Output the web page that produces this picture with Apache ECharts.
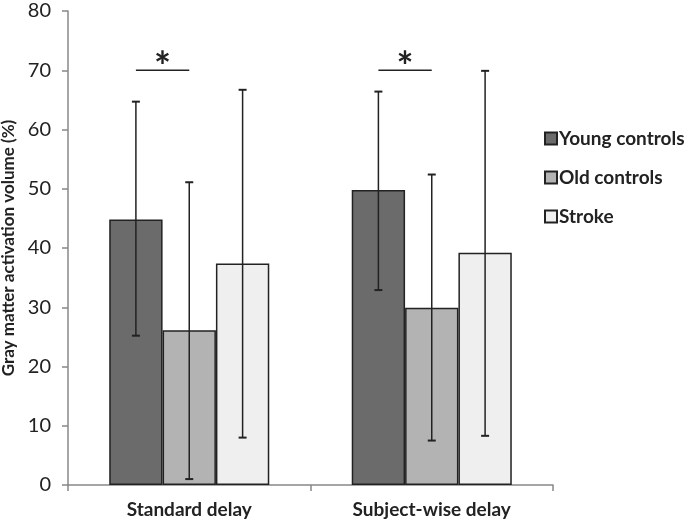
<!DOCTYPE html>
<html>
<head>
<meta charset="utf-8">
<script src="https://cdn.jsdelivr.net/npm/echarts@6/dist/echarts.min.js"></script>
<style>html,body{margin:0;padding:0;background:#fff}#c{width:689px;height:524px}</style>
</head>
<body>
<div id="c"></div>
<script>
const categories = ['Standard delay', 'Subject-wise delay'];
const seriesNames = ['Young controls', 'Old controls', 'Stroke'];
const young = [44.8, 49.8];
const old = [26.1, 29.9];
const stroke = [37.4, 39.2];
const youngErrLow = [25.2, 32.9];
const youngErrHigh = [64.7, 66.4];
const oldErrLow = [1.0, 7.5];
const oldErrHigh = [51.1, 52.4];
const strokeErrLow = [8.0, 8.3];
const strokeErrHigh = [66.7, 69.9];
const sigLevel = [70, 70];
const yTicks = [0, 10, 20, 30, 40, 50, 60, 70, 80];

const FONT = 'Lato';
const colors = ['#6b6b6b', '#b3b3b3', '#efefef'];
const CAT_GAP = 0.34;

function errSeries(lows, highs, idx) {
  return {
    type: 'custom',
    silent: true,
    z: 5,
    data: lows.map((l, i) => [i, l, highs[i]]),
    renderItem: function (params, api) {
      const catW = api.size([1, 0])[0];
      const barW = catW * (1 - CAT_GAP) / 3;
      const off = (idx - 1) * barW;
      const lo = api.coord([api.value(0), api.value(1)]);
      const hi = api.coord([api.value(0), api.value(2)]);
      const x = lo[0] + off;
      const cap = 4;
      const st = { stroke: '#222', lineWidth: 1.5 };
      return {
        type: 'group',
        children: [
          { type: 'line', shape: { x1: x, y1: lo[1], x2: x, y2: hi[1] }, style: st },
          { type: 'line', shape: { x1: x - cap, y1: lo[1], x2: x + cap, y2: lo[1] }, style: { stroke: '#222', lineWidth: 2 } },
          { type: 'line', shape: { x1: x - cap, y1: hi[1], x2: x + cap, y2: hi[1] }, style: { stroke: '#222', lineWidth: 2 } }
        ]
      };
    }
  };
}

const chart = echarts.init(document.getElementById('c'));
chart.setOption({
  animation: false,
  textStyle: { fontFamily: FONT },
  grid: { left: 68, right: 136, top: 11, bottom: 39, containLabel: false, outerBoundsMode: 'none' },
  legend: {
    orient: 'vertical',
    left: 539,
    top: 124,
    itemWidth: 12,
    itemHeight: 12,
    itemGap: 20,
    icon: 'rect',
    data: seriesNames,
    textStyle: { fontFamily: FONT, fontWeight: 'bold', fontSize: 19, color: '#222', padding: [0, 0, 0, -3] }
  },
  xAxis: {
    type: 'category',
    data: categories,
    axisLine: { lineStyle: { color: '#888', width: 1.5 } },
    axisTick: { show: true, length: 6, lineStyle: { color: '#888', width: 1.5 } },
    axisLabel: { margin: 15, fontFamily: FONT, fontWeight: 'bold', fontSize: 19, color: '#222' }
  },
  yAxis: {
    type: 'value',
    min: 0, max: 80, interval: 10,
    name: 'Gray matter activation volume (%)',
    nameLocation: 'middle',
    nameGap: 43,
    nameTextStyle: { fontFamily: FONT, fontWeight: 'bold', fontSize: 17, color: '#222' },
    splitLine: { show: false },
    axisLine: { show: true, lineStyle: { color: '#888', width: 1.5 } },
    axisTick: { show: true, length: 6, lineStyle: { color: '#888', width: 1.5 } },
    axisLabel: { margin: 17, fontFamily: FONT, fontSize: 20, color: '#222',
      formatter: v => yTicks.includes(v) ? String(v) : '' }
  },
  series: [
    { name: seriesNames[0], type: 'bar', data: young, barGap: '0%', barCategoryGap: '34%',
      itemStyle: { color: colors[0], borderColor: '#222', borderWidth: 1.5 } },
    { name: seriesNames[1], type: 'bar', data: old,
      itemStyle: { color: colors[1], borderColor: '#222', borderWidth: 1.5 } },
    { name: seriesNames[2], type: 'bar', data: stroke,
      itemStyle: { color: colors[2], borderColor: '#222', borderWidth: 1.5 } },
    errSeries(youngErrLow, youngErrHigh, 0),
    errSeries(oldErrLow, oldErrHigh, 1),
    errSeries(strokeErrLow, strokeErrHigh, 2),
    {
      type: 'custom',
      silent: true,
      z: 6,
      data: sigLevel.map((v, i) => [i, v]),
      renderItem: function (params, api) {
        const catW = api.size([1, 0])[0];
        const barW = catW * (1 - CAT_GAP) / 3;
        const p = api.coord([api.value(0), api.value(1)]);
        const x1 = p[0] - barW, x2 = p[0];
        return {
          type: 'group',
          children: [
            { type: 'line', shape: { x1: x1, y1: p[1], x2: x2, y2: p[1] }, style: { stroke: '#222', lineWidth: 1.5 } },
            { type: 'text', style: { text: '*', x: (x1 + x2) / 2, y: p[1] + 18, align: 'center', verticalAlign: 'bottom',
              font: 'bold 40px ' + FONT, fill: '#222' } }
          ]
        };
      }
    }
  ]
});
</script>
</body>
</html>
